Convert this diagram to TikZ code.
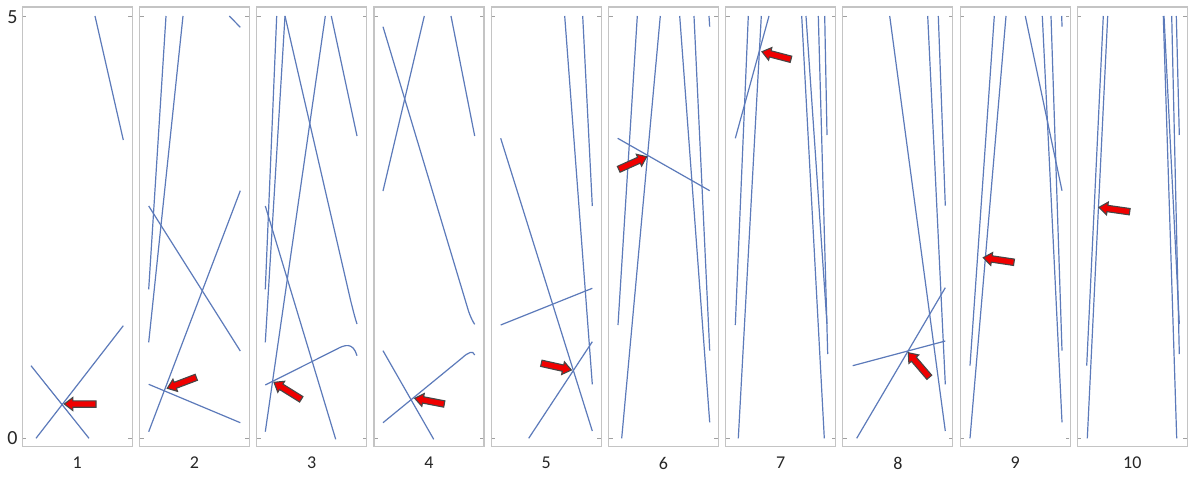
\documentclass[tikz,border=0pt]{standalone}
\usepackage{fontspec}
\setmainfont{Carlito}
\definecolor{lineblue}{RGB}{92,122,186}
\definecolor{framegray}{RGB}{196,196,196}
\definecolor{tickgray}{RGB}{160,160,160}
\definecolor{arrred}{RGB}{240,0,0}
\definecolor{arredge}{RGB}{70,70,70}
\tikzset{
  panel/.style={draw=framegray, line width=1.1pt, minimum width=110pt, minimum height=439.7pt, inner sep=0pt, fill=white},
  tickmark/.style={draw=tickgray, line width=0.9pt},
  ln/.style={draw=lineblue, line width=1.2pt},
  numlab/.style={font=\fontsize{18}{18}\selectfont, text=black!85, inner sep=0pt},
  axlab/.style={font=\fontsize{20}{20}\selectfont, text=black!85, inner sep=0pt},
  arrbody/.style={fill=arrred, draw=arredge, line width=1.1pt, line join=miter},
}
\newcommand\redarrow[4]{%
  \pgfmathsetmacro\arrang{atan2(-(#4-(#2)),#3-(#1))}%
  \pgfmathsetmacro\arrlen{veclen(#3-(#1),#4-(#2))}%
  \begin{scope}[shift={(#3,#4)},rotate=\arrang]
    \path[arrbody] (0,0) -- (-8.5,-6.5) -- (-8.5,-3.2) -- (-\arrlen,-3.2) -- (-\arrlen,3.2) -- (-8.5,3.2) -- (-8.5,6.5) -- cycle;
  \end{scope}}
\begin{document}
\begin{tikzpicture}[x=1pt,y=-1pt]
\useasboundingbox[fill=white] (0,0) rectangle (1194,479);
% panels, ticks, numbers
\foreach \i in {1,...,10} {
  \pgfmathsetmacro\xl{22.3+(\i-1)*117.22}
  \node[panel] (p\i) at (\xl+55,226.85) {};
  \draw[tickmark] (\xl+0.6,16) -- ++(3.5,0);
  \draw[tickmark] (\xl+0.6,438.3) -- ++(3.5,0);
  \draw[tickmark] (\xl+109.4,16) -- ++(-3.5,0);
  \draw[tickmark] (\xl+109.4,438.3) -- ++(-3.5,0);
  \node[numlab] (n\i) at (\xl+55,463) {\i};
}
\node[axlab] (l5) at (12.5,17) {5};
\node[axlab] (l0) at (12.5,438.5) {0};

% panel 1
\draw[ln] (95,16) -- (123.3,140);
\draw[ln] (36,438.3) -- (123.3,325.7);
\draw[ln] (31,365.7) -- (89,438.3);

% panel 2
\draw[ln] (166,16) -- (148.7,289.3);
\draw[ln] (183,16) -- (148.7,342.3);
\draw[ln] (229.3,16) -- (240.3,27.3);
\draw[ln] (148.7,206) -- (240.3,351);
\draw[ln] (148.7,431.7) -- (240.3,190.7);
\draw[ln] (148.7,384.3) -- (240.3,422.7);

% panel 3
\draw[ln] (276.7,16) -- (265.3,289.3);
\draw[ln] (285,16) -- (265.3,342.3);
\draw[ln] (285,16) -- (350.5,300) .. controls (353,310) and (355,318) .. (357,324);
\draw[ln] (325.3,16) -- (265.3,431.7);
\draw[ln] (331.3,16) -- (357,136);
\draw[ln] (265.3,206) -- (335.7,439.3);
\draw[ln] (265.3,385) -- (336,349.5) .. controls (345,344.5) and (353,342) .. (357,355.7);

% panel 4
\draw[ln] (383,26.7) -- (468.7,311.7) .. controls (471,318) and (473,322) .. (474.7,324.3);
\draw[ln] (383,191) -- (424.3,16);
\draw[ln] (451,16) -- (474.7,136);
\draw[ln] (383,350.7) -- (433.7,439.3);
\draw[ln] (383,422.7) -- (462,358) .. controls (468,352.5) and (473,350) .. (474.7,355);

% panel 5
\draw[ln] (564.7,16) -- (592.3,384.3);
\draw[ln] (582.7,16) -- (592.3,206);
\draw[ln] (500.7,138.3) -- (592.3,431);
\draw[ln] (500.7,325) -- (592.3,288.3);
\draw[ln] (528.7,438.3) -- (592.3,341.7);

% panel 6
\draw[ln] (637.3,16) -- (618,325);
\draw[ln] (660.3,16) -- (621.7,438.3);
\draw[ln] (679.7,16) -- (709.7,422.3);
\draw[ln] (694,16) -- (709.7,350.7);
\draw[ln] (709,16) -- (709.7,26.7);
\draw[ln] (617.7,138.3) -- (709.7,190.7);

% panel 7
\draw[ln] (748.3,16) -- (735.3,325);
\draw[ln] (761.3,16) -- (738.3,438.3);
\draw[ln] (769,16) -- (735.3,138.3);
\draw[ln] (801.7,16) -- (824.3,438.3);
\draw[ln] (806,16) -- (827,324);
\draw[ln] (818.3,16) -- (827.7,354);
\draw[ln] (824.7,16) -- (827,135);

% panel 8
\draw[ln] (889.7,16) -- (945.3,431);
\draw[ln] (927.7,16) -- (945.3,384.3);
\draw[ln] (938.3,16) -- (945.3,205.7);
\draw[ln] (856.7,438.3) -- (945.3,287.7);
\draw[ln] (852.7,365.7) -- (945.3,341);

% panel 9
\draw[ln] (994.3,16) -- (970,365.7);
\draw[ln] (1006,16) -- (970,438.3);
\draw[ln] (1025.3,16) -- (1062,190.7);
\draw[ln] (1042.3,16) -- (1062,422.3);
\draw[ln] (1051,16) -- (1062,350.7);
\draw[ln] (1061.7,16) -- (1062,26.7);

% panel 10
\draw[ln] (1103.3,16) -- (1086.7,365.7);
\draw[ln] (1107.7,16) -- (1087.3,438.3);
\draw[ln] (1163.3,16) -- (1176.7,438.3);
\draw[ln] (1164,16) -- (1179.3,324);
\draw[ln] (1171.7,16) -- (1179.3,354);
\draw[ln] (1176.3,16) -- (1179.3,135);

% red arrows: tail x, tail y, tip x, tip y
\redarrow{96}{404}{64.3}{404}
\redarrow{196.3}{377.3}{167.3}{388.3}
\redarrow{301.3}{399.3}{274}{382.3}
\redarrow{444.3}{404}{414.7}{398.3}
\redarrow{541.3}{363.3}{571.3}{370}
\redarrow{618.7}{169.3}{646.7}{156.7}
\redarrow{791}{59.3}{762}{51.7}
\redarrow{929.3}{377.3}{908.3}{352.7}
\redarrow{1014}{262.3}{983.3}{257.7}
\redarrow{1129.7}{211.7}{1099}{207.3}
\end{tikzpicture}
\end{document}
